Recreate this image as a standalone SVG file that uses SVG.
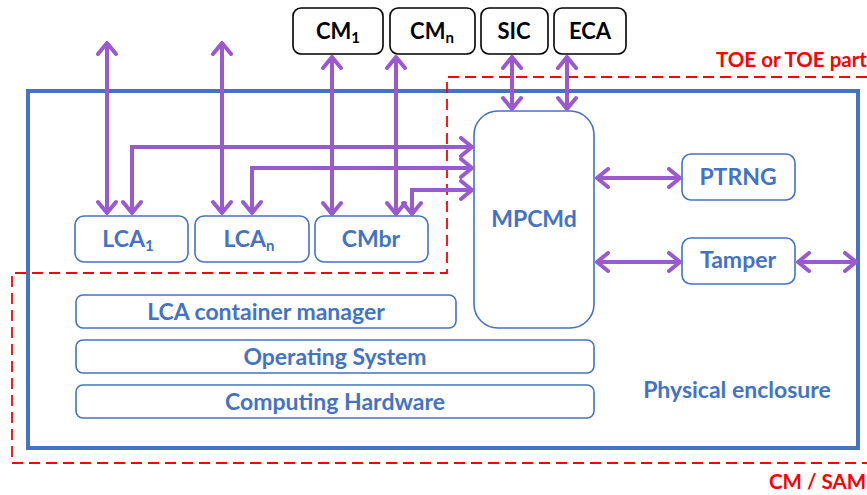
<svg xmlns="http://www.w3.org/2000/svg" width="867" height="495" viewBox="0 0 867 495">
  <style>
    .blue { fill: #fff; stroke: #4472C4; stroke-width: 1.6; }
    .ext { fill: #fff; stroke: #000; stroke-width: 1.6; }
    .lbl { font-family: Lato, "Open Sans", "Liberation Sans", sans-serif; font-weight: bold; font-size: 23px; fill: #4472C4; text-anchor: middle; }
    .extlbl { font-family: Lato, "Open Sans", "Liberation Sans", sans-serif; font-weight: bold; font-size: 22px; fill: #000; text-anchor: middle; }
    .red { font-family: Lato, "Open Sans", "Liberation Sans", sans-serif; font-weight: bold; font-size: 20.5px; fill: #FF0000; }
    .sub { font-size: 15px; }
    .link { fill: none; stroke: #9B59D0; stroke-width: 4; marker-start: url(#chev); marker-end: url(#chev); }
  </style>
  <defs>
    <marker id="chev" viewBox="-14 -11 16 22" refX="0" refY="0" markerWidth="16" markerHeight="22" markerUnits="userSpaceOnUse" orient="auto-start-reverse">
      <path d="M-11,-9 L0,0 L-11,9" fill="none" stroke="#9B59D0" stroke-width="4" stroke-linecap="round" stroke-linejoin="round"/>
    </marker>
  </defs>
  <rect width="867" height="495" fill="#fff"/>

  <!-- boundaries -->
  <g id="boundaries">
    <rect id="physical-enclosure" x="28" y="91" width="830" height="357" fill="none" stroke="#4472C4" stroke-width="4"/>
    <path id="toe-boundary" d="M867,77 H447 V273 H12 V463 H867" fill="none" stroke="#FF0000" stroke-width="1.8" stroke-dasharray="11,6"/>
    <text class="red" x="716" y="67">TOE or TOE part</text>
    <text class="red" x="769" y="489">CM / SAM</text>
    <text class="lbl" x="737" y="398">Physical enclosure</text>
  </g>

  <!-- external entities -->
  <g id="cm1"><rect class="ext" x="293" y="8" width="90" height="46" rx="8"/><text class="extlbl" x="338" y="39">CM<tspan class="sub" dy="4">1</tspan></text></g>
  <g id="cmn"><rect class="ext" x="390" y="8" width="85" height="46" rx="8"/><text class="extlbl" x="432" y="39">CM<tspan class="sub" dy="4">n</tspan></text></g>
  <g id="sic"><rect class="ext" x="481" y="8" width="67" height="46" rx="8"/><text class="extlbl" x="514" y="39">SIC</text></g>
  <g id="eca"><rect class="ext" x="554" y="8" width="72" height="46" rx="8"/><text class="extlbl" x="590" y="39">ECA</text></g>

  <!-- internal components -->
  <g id="lca1"><rect class="blue" x="75" y="216" width="113" height="46" rx="9"/><text class="lbl" x="128" y="247">LCA<tspan class="sub" dy="4">1</tspan></text></g>
  <g id="lcan"><rect class="blue" x="195" y="216" width="114" height="46" rx="9"/><text class="lbl" x="249" y="247">LCA<tspan class="sub" dy="4">n</tspan></text></g>
  <g id="cmbr"><rect class="blue" x="315" y="216" width="113" height="46" rx="9"/><text class="lbl" x="371" y="247">CMbr</text></g>
  <g id="mpcmd"><rect class="blue" x="474" y="111" width="120" height="217" rx="24"/><text class="lbl" x="534" y="227">MPCMd</text></g>
  <g id="ptrng"><rect class="blue" x="682" y="154" width="113" height="46" rx="9"/><text class="lbl" x="738" y="185">PTRNG</text></g>
  <g id="tamper"><rect class="blue" x="682" y="238" width="113" height="46" rx="9"/><text class="lbl" x="738" y="268">Tamper</text></g>
  <g id="lca-container-manager"><rect class="blue" x="76" y="295" width="380" height="33" rx="7"/><text class="lbl" x="266" y="320">LCA container manager</text></g>
  <g id="operating-system"><rect class="blue" x="76" y="340" width="518" height="33" rx="7"/><text class="lbl" x="335" y="365">Operating System</text></g>
  <g id="computing-hardware"><rect class="blue" x="76" y="385" width="518" height="33" rx="7"/><text class="lbl" x="335" y="410">Computing Hardware</text></g>

  <!-- connectors -->
  <g id="connectors">
    <path class="link" d="M107,43 V213"/>
    <path class="link" d="M222,43 V213"/>
    <path class="link" d="M332,57 V214"/>
    <path class="link" d="M396,57 V214"/>
    <path class="link" d="M512,57 V109"/>
    <path class="link" d="M567,57 V109"/>
    <path class="link" d="M132,213 V147 H472"/>
    <path class="link" d="M252,213 V168 H472"/>
    <path class="link" d="M412,214 V190 H472"/>
    <path class="link" d="M597,178 H680"/>
    <path class="link" d="M597,262 H680"/>
    <path class="link" d="M798,262 H856"/>
  </g>
</svg>
